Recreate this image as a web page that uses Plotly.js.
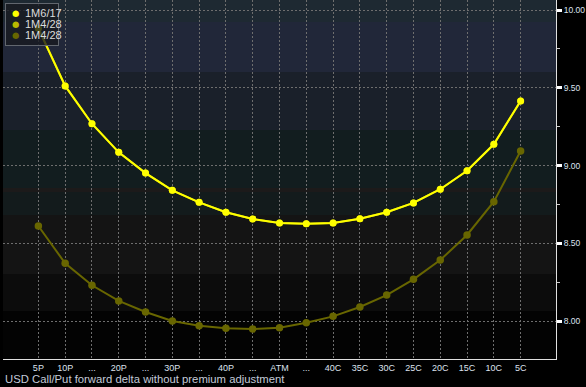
<!DOCTYPE html>
<html>
<head>
<meta charset="utf-8">
<script src="https://cdn.plot.ly/plotly-3.0.1.min.js"></script>
<style>
  html, body { margin: 0; padding: 0; background: #000; }
  #chart { width: 586px; height: 387px; }
</style>
</head>
<body>
<div id="chart"></div>
<script>
// ---- data ----
const categories = ["5P", "10P", "...", "20P", "...", "30P", "...", "40P", "...", "ATM", "...", "40C", "35C", "30C", "25C", "20C", "15C", "10C", "5C"];
const seriesNames = ["1M6/17", "1M4/28", "1M4/28"];
const series1 = [9.882, 9.512, 9.269, 9.085, 8.952, 8.841, 8.764, 8.700, 8.657, 8.631, 8.627, 8.631, 8.659, 8.700, 8.760, 8.848, 8.967, 9.137, 9.415];
const series2 = [9.882, 9.512, 9.269, 9.085, 8.952, 8.841, 8.764, 8.700, 8.657, 8.631, 8.627, 8.631, 8.659, 8.700, 8.760, 8.848, 8.967, 9.137, 9.415];
const series3 = [8.612, 8.372, 8.231, 8.130, 8.059, 8.001, 7.971, 7.954, 7.950, 7.958, 7.990, 8.031, 8.091, 8.168, 8.269, 8.393, 8.554, 8.768, 9.094];
const yTicks = [8.0, 8.5, 9.0, 9.5, 10.0];
const xTitle = "USD Call/Put forward delta without premium adjustment";

// ---- styles ----
const colors = ["#ffff00", "#b9b800", "#686600"];
const markerSizes = [7, 7, 7.5];
const xIdx = categories.map((_, i) => i);
const tickFontFamily = "Liberation Sans Narrow, Liberation Sans, Arial, sans-serif";

const plotW = 553;
const plotH = 359;
const bands = [
  [0, 22, "#1e2932"],
  [22, 72, "#212739"],
  [72, 130, "#1a202a"],
  [130, 188, "#121d1f"],
  [188, 192, "#1c1a1a"],
  [192, 215, "#131b1c"],
  [215, 274, "#141414"],
  [274, 311, "#0c0c0c"],
  [311, 359, "#030303"]
];

const allSeries = [series2, series1, series3];
const order = [1, 0, 2];
const traces = allSeries.map((vals, k) => {
  const ci = order[k];
  return {
    x: xIdx,
    y: vals,
    type: "scatter",
    mode: "lines+markers",
    name: seriesNames[ci],
    showlegend: false,
    line: { color: colors[ci], width: 2 },
    marker: { color: colors[ci], size: markerSizes[ci] },
    hoverinfo: "skip"
  };
});

const shapes = bands.map(b => ({
  type: "rect", xref: "paper", yref: "paper", layer: "below",
  x0: 0, x1: 1, y0: 1 - b[1] / plotH, y1: 1 - b[0] / plotH,
  fillcolor: b[2], line: { width: 0 }
}));

const annotations = [];
annotations.push({
  text: " ", xref: "paper", yref: "paper",
  x: 2 / plotW, y: 1 - 3 / plotH, xanchor: "left", yanchor: "top",
  width: 52, height: 41, borderpad: 0, borderwidth: 1,
  bordercolor: "#62676f", bgcolor: "rgba(24,26,32,0.8)",
  showarrow: false, font: { size: 10 }
});
seriesNames.forEach((nm, i) => {
  const cy = -13 - 11 * i;
  annotations.push({
    text: "●", xref: "paper", yref: "paper", x: 12.3 / plotW, y: 1,
    yshift: cy, xanchor: "center", yanchor: "middle", showarrow: false,
    font: { family: "DejaVu Sans, sans-serif", size: 8.5, color: colors[i] }
  });
  annotations.push({
    text: nm, xref: "paper", yref: "paper", x: 0, y: 1,
    xshift: 20, yshift: cy, xanchor: "left", yanchor: "middle",
    showarrow: false,
    font: { family: "Liberation Sans, Arial, sans-serif", size: 11, color: "#dcdcdc" }
  });
});
annotations.push({
  text: xTitle, xref: "paper", yref: "paper", x: 0, y: -(379 - 359) / plotH,
  xshift: 0, xanchor: "left", yanchor: "middle", showarrow: false,
  font: { family: "Liberation Sans, Arial, sans-serif", size: 11.3, color: "#c3cad8" }
});

const layout = {
  width: 586, height: 387,
  margin: { l: 3, r: 30, t: 0, b: 28, pad: 0 },
  paper_bgcolor: "#000",
  plot_bgcolor: "#000",
  showlegend: false,
  xaxis: {
    range: [-1.32, 19.32],
    tickvals: xIdx,
    ticktext: categories,
    showgrid: true,
    gridcolor: "#6e6e6e",
    griddash: "2px,2px",
    gridwidth: 1,
    zeroline: false,
    showline: true,
    linecolor: "#e0e0e0",
    linewidth: 1,
    ticks: "",
    tickfont: { family: tickFontFamily, size: 9, color: "#dde2ee" },
    fixedrange: true
  },
  yaxis: {
    side: "right",
    range: [7.757, 10.0643],
    tickvals: yTicks,
    tickformat: ".2f",
    showgrid: true,
    gridcolor: "#6e6e6e",
    griddash: "2px,2px",
    gridwidth: 1,
    zeroline: false,
    showline: true,
    linecolor: "#e0e0e0",
    linewidth: 1,
    ticks: "outside",
    ticklen: 5,
    tickwidth: 3,
    tickcolor: "#ffffff",
    minor: { dtick: 0.25, tick0: 0, ticks: "outside", ticklen: 3, tickwidth: 1, tickcolor: "#cccccc", showgrid: false },
    tickfont: { family: tickFontFamily, size: 8.5, color: "#dde2ee" },
    fixedrange: true
  },
  shapes: shapes,
  annotations: annotations
};

Plotly.newPlot("chart", traces, layout, { displayModeBar: false, staticPlot: true });
</script>
</body>
</html>
